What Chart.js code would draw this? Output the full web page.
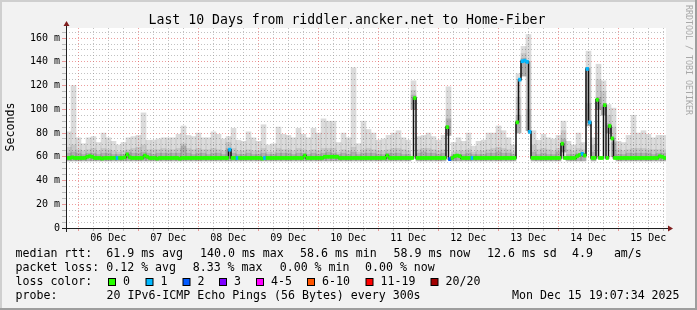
<!DOCTYPE html>
<html><head><meta charset="utf-8">
<script src="https://cdn.jsdelivr.net/npm/chart.js@4.4.1/dist/chart.umd.min.js"></script>
<style>
html,body{margin:0;padding:0;background:#f2f2f2;}
canvas{display:block;}
</style></head><body>
<canvas id="c" width="697" height="310"></canvas>
<script>
// time axis: hours relative to 06 Dec 00:00 (graph spans Dec 5 19:07 -> Dec 15 19:07)
const START_HOUR = -4.883;
const END_HOUR = 235.117;
const dayLabels = ['06 Dec','07 Dec','08 Dec','09 Dec','10 Dec','11 Dec','12 Dec','13 Dec','14 Dec','15 Dec'];
const yTickLabels = {0:'0',20:'20 m',40:'40 m',60:'60 m',80:'80 m',100:'100 m',120:'120 m',140:'140 m',160:'160 m'};

// smoke, 2-hour bins (ms)
const smokeLo = [
56.5,56.5,56.5,56.5,56.5,56.5,56.5,56.5,56.5,56.5,56.5,56.5,56.5,56.5,56.5,56.5,56.5,56.5,56.5,56.5,
56.5,56.5,56.5,56.5,56.5,56.5,56.5,56.5,56.5,56.5,56.5,56.5,56.5,56.5,56.5,56.5,56.5,56.5,56.5,56.5,
56.5,56.5,56.5,56.5,56.5,56.5,56.5,56.5,56.5,56.5,56.5,56.5,56.5,56.5,56.5,56.5,56.5,56.5,56.5,56.5,
56.5,56.5,56.5,56.5,56.5,56.5,56.5,56.5,56.5,100,56.5,56.5,56.5,56.5,56.5,56.5,78,56.5,56.5,56.5,
56.5,56.5,56.5,56.5,56.5,56.5,56.5,56.5,56.5,56.5,80,128,82,56.5,56.5,56.5,56.5,56.5,56.5,64,
56.5,56.5,56.5,56.5,86,56.5,100,95,80,60,56.5,56.5,56.5,56.5,56.5,56.5,56.5,56.5,56.5,56.5];
const smokeDark = [
63,64,63,62,63,63,62,63,63,62,62,62,64,63,63,64,63,62,63,63,
63,63,63,69,63,62,63,63,62,63,63,62,67,63,62,62,63,62,62,63,
62,62,63,63,63,62,63,63,62,63,62,63,64,63,62,63,62,64,62,63,
63,63,62,62,63,63,63,62,62,112,63,64,63,63,62,63,92,62,62,62,
63,62,62,62,63,63,64,63,63,62,95,143,100,64,62,63,62,62,64,75,
62,62,63,63,105,64,110,102,88,72,62,62,63,63,63,63,63,62,63,63];
const smokeMid = [
68,70,66,65,66,67,65,67,66,65,64,65,66,67,68,70,66,66,66,67,
66,66,67,71,67,66,67,66,66,67,66,65,72,67,65,65,66,65,65,67,
64,64,67,66,66,65,67,66,65,66,65,67,67,67,64,66,65,68,64,66,
67,66,65,65,66,67,67,66,65,116,66,67,67,66,65,66,100,64,65,65,
66,64,65,65,66,67,68,67,66,64,110,147,140,70,66,67,66,65,67,82,
66,65,67,66,135,70,125,115,95,85,66,65,66,67,67,67,66,66,66,66];
const smokeHi = [
81,120,76,71,76,77,72,80,76,73,70,72,76,77,78,97,74,74,75,76,
76,76,79,86,78,77,80,76,76,81,79,75,77,84,74,73,81,76,73,87,
70,71,85,79,78,76,84,79,76,84,80,92,90,90,72,80,76,135,71,90,
83,80,74,75,78,80,82,76,74,124,77,78,80,77,74,78,119,72,76,73,
80,69,73,74,80,80,86,82,76,70,130,153,163,82,74,79,76,75,78,90,
73,70,80,72,149,76,138,124,104,101,73,72,78,95,80,82,79,76,78,78];

// median rtt, 1-hour bins (ms)
const medianRtt = [
59,59,59.5,59,59,59,59,59,60,60.5,60,59,59,59,58.5,59,59,59,59,59,59,59,59,59.5,
62,59.5,59,59,59,59,59,61,60,59,59,59,58.5,59,59,59,59,59,59,59,59,58.5,59,59,
59,59,59,59,59,59,59,59,59,59,59,59,59,59,59,59,59,66,59,59,59,59,59,59,
59,59,59,59,59,59,58.5,59,59,59,59,59,59,59,59,59,59,59,59,59,59,59,59,61,
59,59,59,59,59,59,59,60,60,60,60,60,60,59,59,59,59,59,59,59,59,59,59,59,
59,59,59,59,59,59,59,59,61,59,59,59,59,59,59,59,59,59,59,109.5,59,59,59,59,
59,59,59,59,59,59,59,59,85,58,59,60.5,61,60.5,59,59,59,59,59,59,59,59,59,59,
59,59,59,59,59,59,59,59,59,59,59,59,89,125,140.5,141,140,81,59,59,59,59,59,59,
59,59,59,59,59,59,71,59,59,59,59,59,60.5,61.5,62.5,61,134,89,59,59,108,59,59,103.5,
59,86,75.5,59,59,59,59,59,59,59,59,59,59,59,59,59,59,59,59,59,59,60.5,60,59];
// lost pings out of 20, per 1-hour bin
const lossCount = [
0,0,0,0,0,0,0,0,0,0,0,0,0,0,0,0,0,0,0,0,1,0,0,0,
0,0,0,0,0,0,0,0,0,0,0,0,0,0,0,0,0,0,0,0,0,0,0,0,
0,0,0,0,0,0,0,0,0,0,0,0,0,0,0,0,0,1,0,0,1,0,0,0,
0,0,0,0,0,0,0,1,0,0,0,0,0,0,0,0,0,0,0,0,0,0,0,0,
0,0,0,0,0,0,0,0,0,0,0,0,0,0,0,0,0,0,0,0,0,0,0,0,
0,0,0,0,0,0,0,0,0,0,0,0,0,0,0,0,0,0,0,0,0,0,0,0,
0,0,0,0,0,0,0,0,0,2,0,0,0,0,0,0,0,0,1,0,0,0,0,0,
0,0,0,0,0,0,0,0,0,0,0,0,0,1,1,1,1,1,0,0,0,0,0,0,
0,0,0,0,0,0,0,0,0,0,0,0,0,0,1,0,1,1,0,0,0,0,0,0,
0,0,0,0,0,0,0,0,0,0,0,0,0,0,0,0,0,0,0,0,0,0,0,0];

const lossColors = ['#26ff00','#00b8ff','#0059ff','#7e00ff','#ff00ff','#ff5500','#ff0000','#a10000'];
const lossLabels = ['0','1','2','3','4-5','6-10','11-19','20/20'];
function lossBucket(n){ if(n<=3) return n; if(n<=5) return 4; if(n<=10) return 5; if(n<=19) return 6; return 7; }

const SMOKE_STEP = 2, MED_STEP = 1;
const smokeX = smokeHi.map((_, i) => START_HOUR + SMOKE_STEP*i + SMOKE_STEP/2);
const medStart = medianRtt.map((_, j) => START_HOUR + MED_STEP*j);

const FONT = 'DejaVu Sans Mono';
const MAJOR = 'rgba(222,79,79,0.55)';
const MINOR = 'rgba(143,143,143,0.55)';

const frame = {
  id: 'rrdframe',
  beforeDraw(chart){
    const c = chart.ctx, a = chart.chartArea, W = chart.width, H = chart.height;
    c.save();
    c.fillStyle = '#f2f2f2'; c.fillRect(0,0,W,H);
    c.fillStyle = '#cfcfcf'; c.fillRect(0,0,W,2); c.fillRect(0,0,2,H);
    c.fillStyle = '#9e9e9e'; c.fillRect(0,H-2,W,2); c.fillRect(W-2,0,2,H);
    c.fillStyle = '#ffffff'; c.fillRect(a.left, a.top, a.right-a.left, a.bottom-a.top);
    c.restore();
  },
  afterDraw(chart){
    const c = chart.ctx, a = chart.chartArea;
    const y0 = chart.scales.y.getPixelForValue(0);
    c.save();
    c.strokeStyle = '#1f1f1f'; c.lineWidth = 1;
    c.beginPath();
    c.moveTo(a.left-4, Math.round(y0)+0.5); c.lineTo(a.right+3, Math.round(y0)+0.5);
    c.moveTo(Math.round(a.left)+0.5, y0+4); c.lineTo(Math.round(a.left)+0.5, a.top-2);
    c.stroke();
    c.fillStyle = '#801f1f';
    const ax = Math.round(a.left)+0.5, ay = Math.round(y0)+0.5;
    c.beginPath(); c.moveTo(ax-3, a.top-2); c.lineTo(ax+3, a.top-2); c.lineTo(ax, a.top-7); c.closePath(); c.fill();
    c.beginPath(); c.moveTo(a.right+2, ay-3); c.lineTo(a.right+2, ay+3); c.lineTo(a.right+7, ay); c.closePath(); c.fill();
    c.fillStyle = '#000';
    c.font = '13.2px "'+FONT+'"'; c.textAlign = 'center'; c.textBaseline = 'alphabetic';
    c.fillText('Last 10 Days from riddler.ancker.net to Home-Fiber', 347, 24);
    c.save(); c.translate(11, (a.top+a.bottom)/2 - 1); c.rotate(-Math.PI/2);
    c.font = '11.6px "'+FONT+'"'; c.textBaseline = 'middle'; c.textAlign = 'center';
    c.fillText('Seconds', 0, 0); c.restore();
    c.save(); c.translate(688, 5); c.rotate(Math.PI/2);
    c.font = '8.3px "'+FONT+'"'; c.textBaseline = 'middle'; c.textAlign = 'left'; c.fillStyle = '#a8a8a8';
    c.fillText('RRDTOOL / TOBI OETIKER', 0, 0); c.restore();
    c.font = '11.6px "'+FONT+'"'; c.textAlign = 'left'; c.textBaseline = 'alphabetic'; c.fillStyle = '#000';
    const rows = [
      [257.3, [[15.5,'median rtt:  61.9 ms avg'],[200,'140.0 ms max'],[300,'58.6 ms min'],[393.5,'58.9 ms now'],[487,'12.6 ms sd'],[572,'4.9   am/s']]],
      [271.3, [[15.5,'packet loss: 0.12 % avg'],[192.7,'8.33 % max'],[279.7,'0.00 % min'],[365,'0.00 % now']]],
      [285.3, [[15.5,'loss color:']]],
      [299.3, [[15.5,'probe:'],[106.5,'20 IPv6-ICMP Echo Pings (56 Bytes) every 300s'],[512,'Mon Dec 15 19:07:34 2025']]]
    ];
    rows.forEach(([y, items]) => items.forEach(([x, t]) => c.fillText(t, x, y)));
    const boxX = [108, 145.5, 182.5, 219, 256, 307, 365.5, 430.5];
    lossLabels.forEach((lab, i) => {
      c.fillStyle = lossColors[i]; c.fillRect(boxX[i]+0.5, 278.5, 7, 7);
      c.strokeStyle = '#000'; c.lineWidth = 1; c.strokeRect(boxX[i]+0.5, 278.5, 7, 7);
      c.fillStyle = '#000'; c.fillText(lab, boxX[i]+15, 285.3);
    });
    c.restore();
  }
};

const barCommon = {type:'bar', stack:'all', barThickness:'flex', barPercentage:1, categoryPercentage:1, borderWidth:0};
const ds = [];
ds.push(Object.assign({}, barCommon, {label:'medianLoss', order:0,
  data: medianRtt.map((v,j)=>({x: medStart[j]+MED_STEP/2, y:[v-1.3, v+1.3]})),
  backgroundColor: lossCount.map(n => lossColors[lossBucket(n)])}));
ds.push({type:'line', label:'median', order:1, stepped:true, pointRadius:0, borderWidth:1.5, borderColor:'#111', fill:false,
  data: medianRtt.map((v,j)=>({x: medStart[j], y:v})).concat([{x:END_HOUR, y:medianRtt[medianRtt.length-1]}])});
ds.push(Object.assign({}, barCommon, {label:'smokeDark', order:2,
  data: smokeDark.map((v,i)=>({x: smokeX[i], y:[smokeLo[i], v]})), backgroundColor:'rgba(0,0,0,0.12)'}));
ds.push(Object.assign({}, barCommon, {label:'smokeMid', order:3,
  data: smokeMid.map((v,i)=>({x: smokeX[i], y:[smokeLo[i], v]})), backgroundColor:'rgba(0,0,0,0.09)'}));
ds.push(Object.assign({}, barCommon, {label:'smokeHi', order:4,
  data: smokeHi.map((v,i)=>({x: smokeX[i], y:[smokeLo[i], v]})), backgroundColor:'rgba(0,0,0,0.14)'}));

new Chart(document.getElementById('c'), {
  type:'bar',
  data:{datasets: ds},
  plugins:[frame],
  options:{
    responsive:false, animation:false, devicePixelRatio:1, events:[],
    layout:{padding:{left:0, top:28, right:31, bottom:62}},
    plugins:{legend:{display:false}, tooltip:{enabled:false}, title:{display:false}},
    scales:{
      x:{type:'linear', min:START_HOUR, max:END_HOUR, offset:false,
        afterFit(s){ s.height = 20; },
        afterBuildTicks(s){ const t=[]; for(let h=0; h<=END_HOUR; h+=6) t.push({value:h}); s.ticks = t; },
        ticks:{autoSkip:false, maxRotation:0, minRotation:0, padding:1, color:'#000', font:{family:FONT, size:10},
          callback:(v)=> (v%24===12 ? dayLabels[(v-12)/24] : '')},
        grid:{offset:false, lineWidth:1, tickLength:3, color:(ctx)=> (ctx.tick && ctx.tick.value%24===0 ? MAJOR : MINOR)},
        border:{display:false, dash:[1,2]}
      },
      y:{min:0, max:168.5, stacked:false,
        afterFit(s){ s.width = 66; },
        afterBuildTicks(s){ const t=[]; for(let v=0; v<=165; v+=5) t.push({value:v}); s.ticks = t; },
        ticks:{autoSkip:false, padding:2, color:'#000', font:{family:FONT, size:10},
          callback:(v)=> (yTickLabels[v] !== undefined ? yTickLabels[v] : '')},
        grid:{lineWidth:1, tickLength:4, color:(ctx)=> (ctx.tick && ctx.tick.value%20===0 ? MAJOR : MINOR)},
        border:{display:false, dash:[1,2]}
      }
    }
  }
});
</script>
</body></html>
